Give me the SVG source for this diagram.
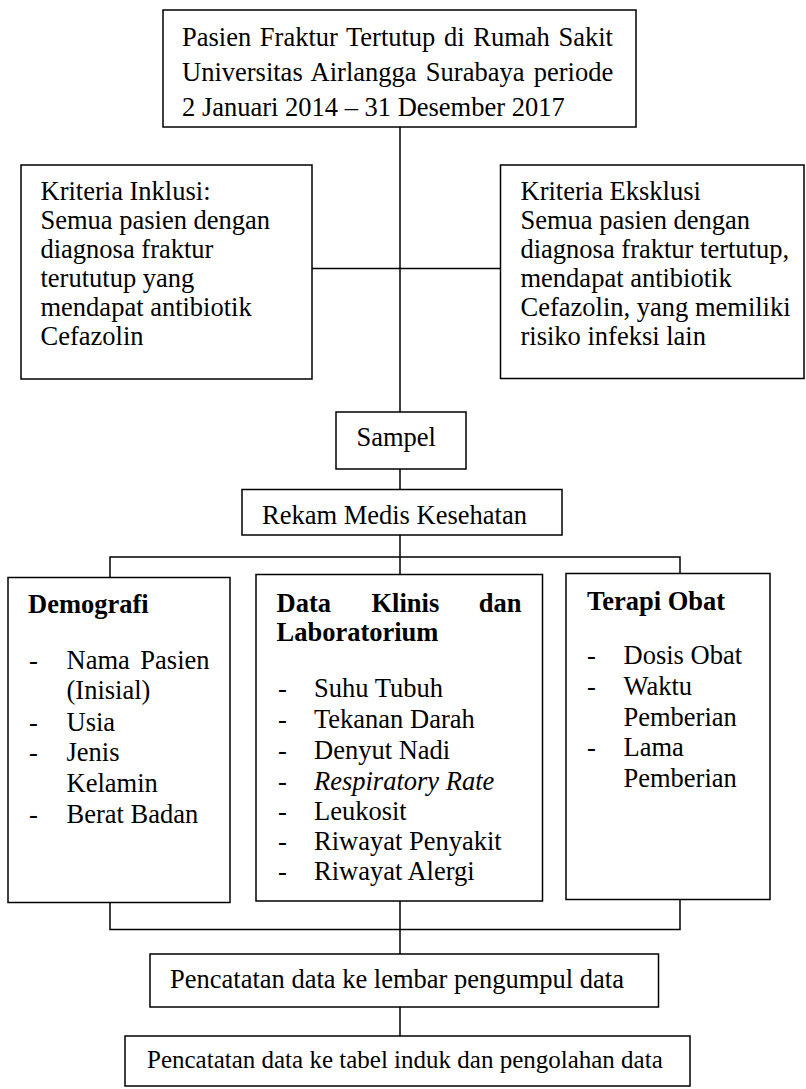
<svg xmlns="http://www.w3.org/2000/svg" width="806" height="1089" viewBox="0 0 806 1089">
<style>
.box{fill:#fff;stroke:#000;stroke-width:1.5}
.ln{fill:none;stroke:#000;stroke-width:1.5}
text{font-family:"Liberation Serif","Times New Roman",serif;font-size:26.5px;fill:#000}
.b{font-weight:bold}
.i{font-style:italic}
</style>
<rect width="806" height="1089" fill="#fff"/>
<g id="connectors">
<path class="ln" d="M400 127V412"/>
<path class="ln" d="M312 268.5H500.5"/>
<path class="ln" d="M400 469V489.5"/>
<path class="ln" d="M400 535V574.5"/>
<path class="ln" d="M110 577.5V557H680V573.5"/>
<path class="ln" d="M110 902.5V929.5H680V899.5"/>
<path class="ln" d="M400 901V954"/>
<path class="ln" d="M400 1007V1036"/>
</g>
<g id="n-populasi">
<rect class="box" x="163" y="10" width="473" height="117"/>
<text x="182" y="45.5" word-spacing="2">Pasien Fraktur Tertutup di Rumah Sakit</text>
<text x="182" y="81" word-spacing="2.7">Universitas Airlangga Surabaya periode</text>
<text x="182" y="116">2 Januari 2014 – 31 Desember 2017</text>
</g>
<g id="n-inklusi">
<rect class="box" x="21" y="165" width="291" height="214"/>
<text x="40.5" y="200">Kriteria Inklusi:</text>
<text x="40.5" y="229">Semua pasien dengan</text>
<text x="40.5" y="258">diagnosa fraktur</text>
<text x="40.5" y="287">terututup yang</text>
<text x="40.5" y="316">mendapat antibiotik</text>
<text x="40.5" y="345">Cefazolin</text>
</g>
<g id="n-eksklusi">
<rect class="box" x="500.5" y="165" width="303.5" height="213.5"/>
<text x="520.5" y="200">Kriteria Eksklusi</text>
<text x="520.5" y="229">Semua pasien dengan</text>
<text x="520.5" y="258">diagnosa fraktur tertutup,</text>
<text x="520.5" y="287">mendapat antibiotik</text>
<text x="520.5" y="316">Cefazolin, yang memiliki</text>
<text x="520.5" y="345">risiko infeksi lain</text>
</g>
<g id="n-sampel">
<rect class="box" x="336" y="412" width="130" height="57"/>
<text x="356.5" y="446">Sampel</text>
</g>
<g id="n-rekam">
<rect class="box" x="242" y="489.5" width="320" height="45.5"/>
<text x="262" y="523.5">Rekam Medis Kesehatan</text>
</g>
<g id="n-demografi">
<rect class="box" x="8" y="577.5" width="222" height="325"/>
<text class="b" x="28" y="612.5">Demografi</text>
<text x="29" y="669">-</text><text x="66.5" y="669">Nama</text><text x="209.5" y="669" text-anchor="end">Pasien</text>
<text x="66.5" y="699">(Inisial)</text>
<text x="29" y="730.5">-</text><text x="66.5" y="730.5">Usia</text>
<text x="29" y="761">-</text><text x="66.5" y="761">Jenis</text>
<text x="66.5" y="791.5">Kelamin</text>
<text x="29" y="822.5">-</text><text x="66.5" y="822.5">Berat Badan</text>
</g>
<g id="n-klinis">
<rect class="box" x="256" y="574.5" width="286.5" height="326.5"/>
<text class="b" x="276.5" y="611.5">Data</text>
<text class="b" x="371.5" y="611.5">Klinis</text>
<text class="b" x="521.5" y="611.5" text-anchor="end">dan</text>
<text class="b" x="276.5" y="641">Laboratorium</text>
<text x="278" y="697">-</text><text x="314" y="697">Suhu Tubuh</text>
<text x="278" y="728">-</text><text x="314" y="728">Tekanan Darah</text>
<text x="278" y="759">-</text><text x="314" y="759">Denyut Nadi</text>
<text x="278" y="789.5">-</text><text class="i" x="314" y="789.5">Respiratory Rate</text>
<text x="278" y="819.5">-</text><text x="314" y="819.5">Leukosit</text>
<text x="278" y="850">-</text><text x="314" y="850">Riwayat Penyakit</text>
<text x="278" y="880">-</text><text x="314" y="880">Riwayat Alergi</text>
</g>
<g id="n-terapi">
<rect class="box" x="566" y="573.5" width="204" height="326"/>
<text class="b" x="587" y="609.5">Terapi Obat</text>
<text x="587" y="664">-</text><text x="623.5" y="664">Dosis Obat</text>
<text x="587" y="695">-</text><text x="623.5" y="695">Waktu</text>
<text x="623.5" y="725.5">Pemberian</text>
<text x="587" y="756">-</text><text x="623.5" y="756">Lama</text>
<text x="623.5" y="787">Pemberian</text>
</g>
<g id="n-lembar">
<rect class="box" x="150" y="954" width="508.5" height="53"/>
<text x="170" y="988">Pencatatan data ke lembar pengumpul data</text>
</g>
<g id="n-tabel">
<rect class="box" x="125" y="1036" width="565" height="50"/>
<text x="147" y="1068" style="font-size:25px">Pencatatan data ke tabel induk dan pengolahan data</text>
</g>
</svg>
